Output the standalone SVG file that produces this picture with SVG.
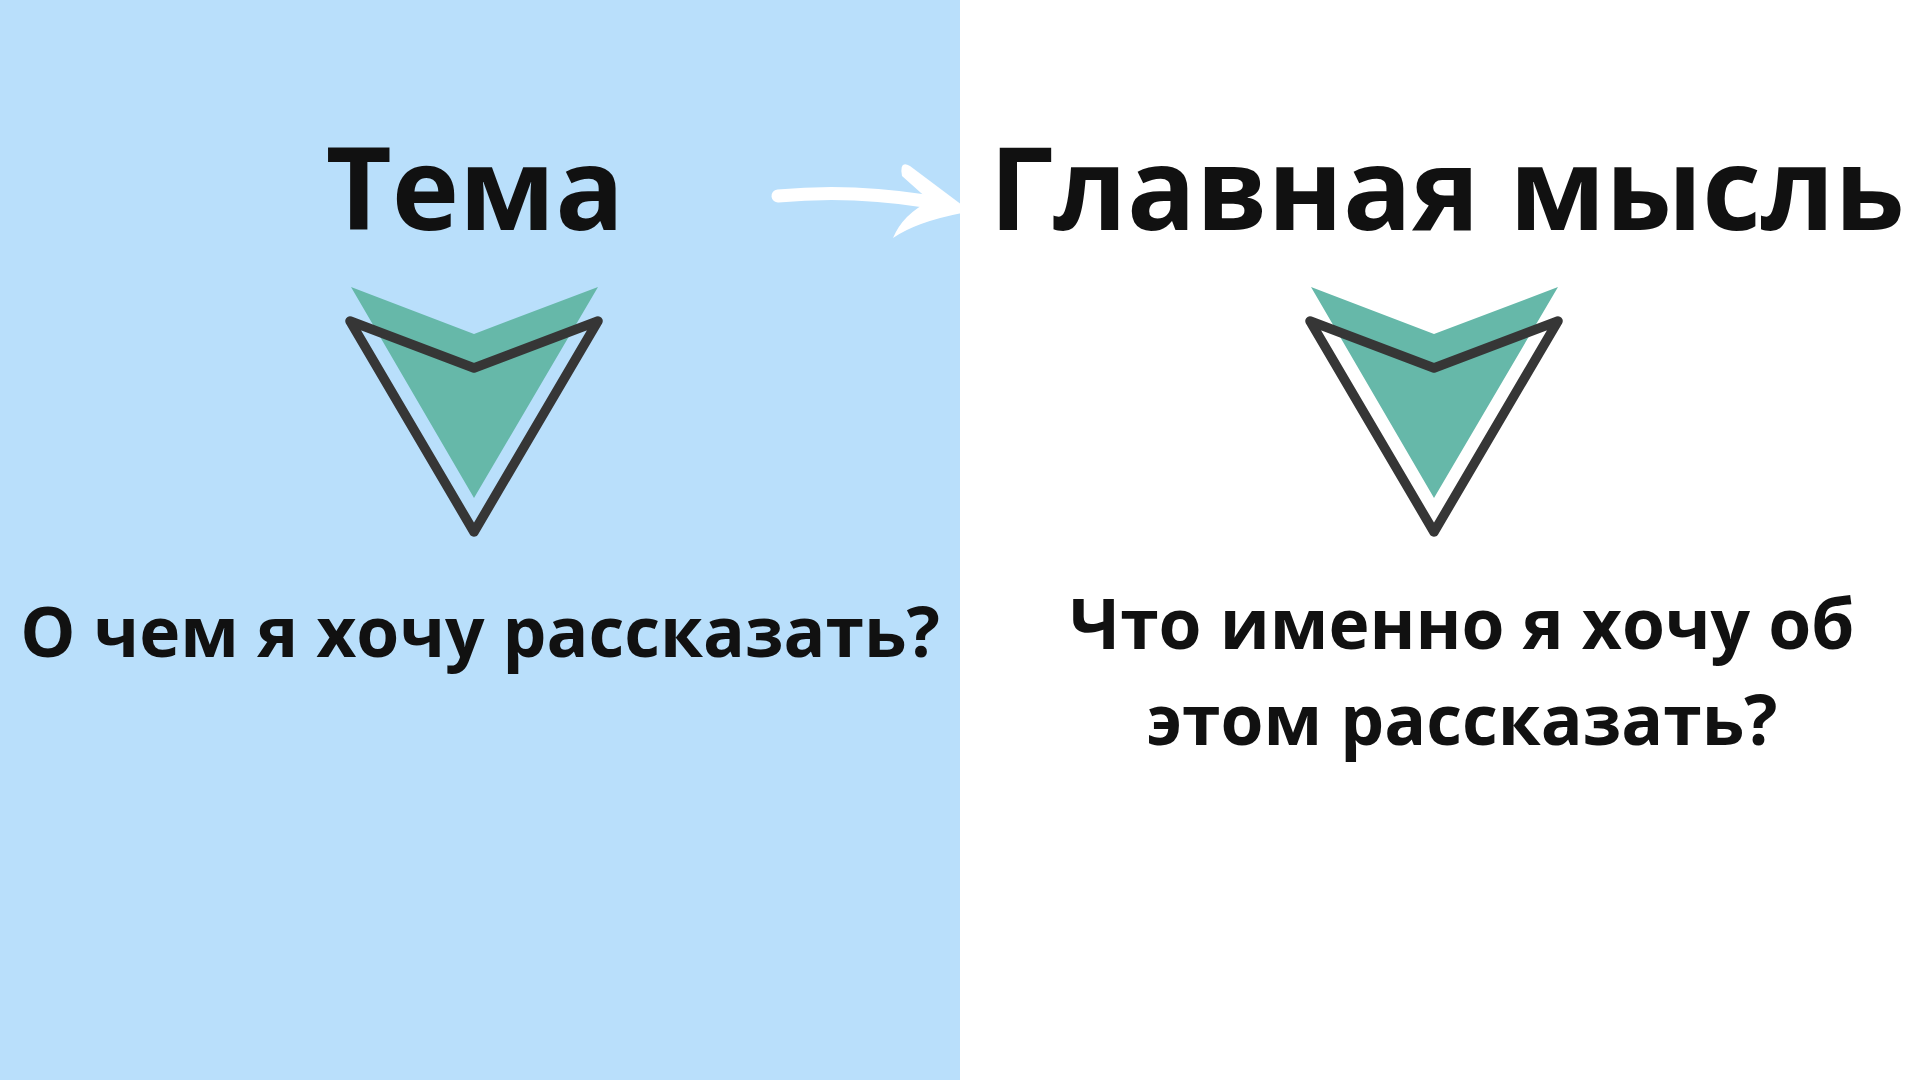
<svg xmlns="http://www.w3.org/2000/svg" width="1920" height="1080" viewBox="0 0 1920 1080">
<style>
.t{font-family:"Open Sans","Noto Sans","DejaVu Sans",sans-serif;font-weight:700;fill:#111111;text-anchor:middle}
.h{font-size:114px}
.s{font-size:69.5px}
.teal{fill:#66b8a9}
.out{fill:none;stroke:#363636;stroke-width:9.5;stroke-linejoin:round;stroke-linecap:round}
</style>
<defs>
<g id="icon">
<path class="teal" d="M-123 27 L0 74 L124 27 L0 238 Z"/>
<path class="out" d="M-124 61 L0 108 L124 61 L0 272 Z"/>
</g>
</defs>
<rect x="0" y="0" width="1920" height="1080" fill="#ffffff"/>
<rect x="0" y="0" width="960" height="1080" fill="#b9dffb"/>
<g id="node-tema">
<text class="t h" x="475" y="230">Тема</text>
<use href="#icon" x="474" y="260"/>
<text class="t s" x="480" y="657">О чем я хочу рассказать?</text>
</g>
<g id="node-main">
<text class="t h" x="1447" y="230">Главная мысль</text>
<use href="#icon" x="1434" y="260"/>
<text class="t s" x="1462" y="649">Что именно я хочу об</text>
<text class="t s" x="1462" y="745">этом рассказать?</text>
</g>
<g id="connectors">
<path d="M778 196 Q850 189 925 201" fill="none" stroke="#ffffff" stroke-width="13" stroke-linecap="round"/>
<path d="M962 205 L910 166 Q899 160 902 176 L930 201 Q903 214 893 238 Q916 222 962 213 Z" fill="#ffffff"/>
</g>
</svg>
